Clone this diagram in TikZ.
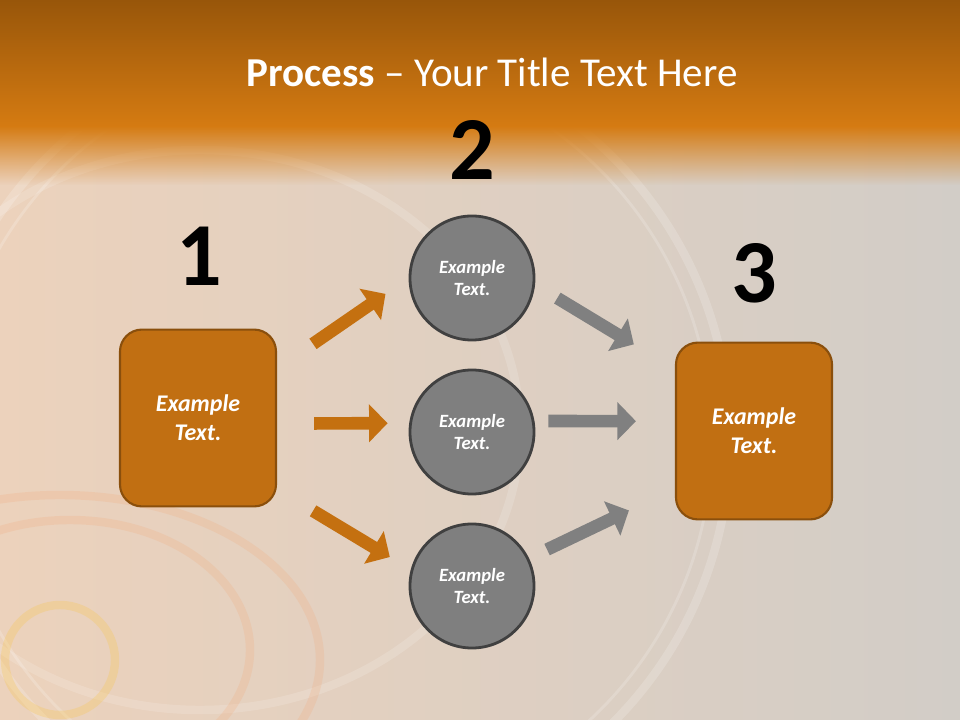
\documentclass[tikz,border=0pt]{standalone}
\usepackage{fontspec}
\setmainfont{Carlito}
\usetikzlibrary{arrows.meta,fadings}

\definecolor{bandtop}{RGB}{152,86,10}
\definecolor{bandlow}{RGB}{213,123,18}
\definecolor{peach}{RGB}{236,210,188}
\definecolor{greybg}{RGB}{210,205,199}
\definecolor{ringorange}{RGB}{246,160,105}
\definecolor{boxfill}{RGB}{193,111,18}
\definecolor{boxline}{RGB}{138,79,12}
\definecolor{arroworange}{RGB}{196,112,16}
\definecolor{circfill}{RGB}{127,127,127}
\definecolor{circline}{RGB}{64,64,64}
\definecolor{arrowgrey}{RGB}{128,128,128}

\begin{document}
\begin{tikzpicture}[
    x=0.025cm, y=-0.025cm,
    stepbox/.style={draw=boxline, fill=boxfill, line width=1.5pt, rounded corners=0.55cm,
        minimum width=3.9cm, minimum height=4.42cm, text=white, align=center,
        font=\fontsize{17}{20.4}\selectfont\bfseries\itshape},
    stepcircle/.style={circle, draw=circline, fill=circfill, line width=2pt,
        minimum size=3.1cm, inner sep=0pt, text=white, align=center,
        font=\fontsize{13.3}{16.2}\selectfont\bfseries\itshape},
    numlabel/.style={inner sep=0pt, font=\fontsize{64}{64}\selectfont\bfseries},
    blockarrow/.style={line width=9pt, -{Triangle[length=13.2pt, width=26.3pt]}},
    swirl/.style={line width=6pt, opacity=0.18}
]
    \useasboundingbox (0,0) rectangle (960,720);

    % background
    \begin{scope}
        \clip (0,0) rectangle (960,720);
        \shade[left color=peach, right color=greybg] (0,0) rectangle (960,720);
        \draw[swirl, white] (330,440) circle [radius=400];
        \draw[swirl, white, line width=2pt] (330,440) circle [radius=382];
        \draw[swirl, white, opacity=0.15] (200,430) ellipse [x radius=320, y radius=280];
        \draw[swirl, ringorange] (70,650) ellipse [x radius=180, y radius=130];
        \draw[swirl, ringorange] (60,660) ellipse [x radius=260, y radius=165];
        \draw[swirl, ringorange!60!yellow, opacity=0.25] (60,660) circle [radius=55];
        \shade[top color=bandtop, bottom color=bandlow] (0,0) rectangle (960,127);
        \fill[bandlow, path fading=south] (0,126) rectangle (960,185);
    \end{scope}

    \node[anchor=base, text=white, inner sep=0pt, font=\fontsize{29.2}{34}\selectfont]
        (title) at (492,87) {\textbf{Process} – Your Title Text Here};

    \node[numlabel] (n1) at (199,256) {1};
    \node[numlabel] (n2) at (472,150) {2};
    \node[numlabel] (n3) at (754,273) {3};

    \node[stepbox] (b1) at (198,418) {Example\\Text.};
    \node[stepbox] (b3) at (754,431) {Example\\Text.};
    \node[stepcircle] (c1) at (472,278) {Example\\Text.};
    \node[stepcircle] (c2) at (472,432) {Example\\Text.};
    \node[stepcircle] (c3) at (472,586) {Example\\Text.};

    \draw[blockarrow, arroworange, shorten <=1.09cm, shorten >=0.7cm] (b1.32) -- (c1.west);
    \draw[blockarrow, arroworange, shorten <=0.925cm, shorten >=0.54cm] (b1.-4) -- (c2.172);
    \draw[blockarrow, arroworange, shorten <=1.05cm, shorten >=0.61cm] (b1.-42) -- (c3.165);

    \draw[blockarrow, arrowgrey, shorten <=0.65cm, shorten >=1.2cm] (c1.-6) -- (b3.142);
    \draw[blockarrow, arrowgrey, shorten <=0.35cm, shorten >=0.975cm] (c2.10) -- (b3.173);
    \draw[blockarrow, arrowgrey, shorten <=0.5cm, shorten >=1.275cm] (c3.26) -- (b3.216);
\end{tikzpicture}
\end{document}
